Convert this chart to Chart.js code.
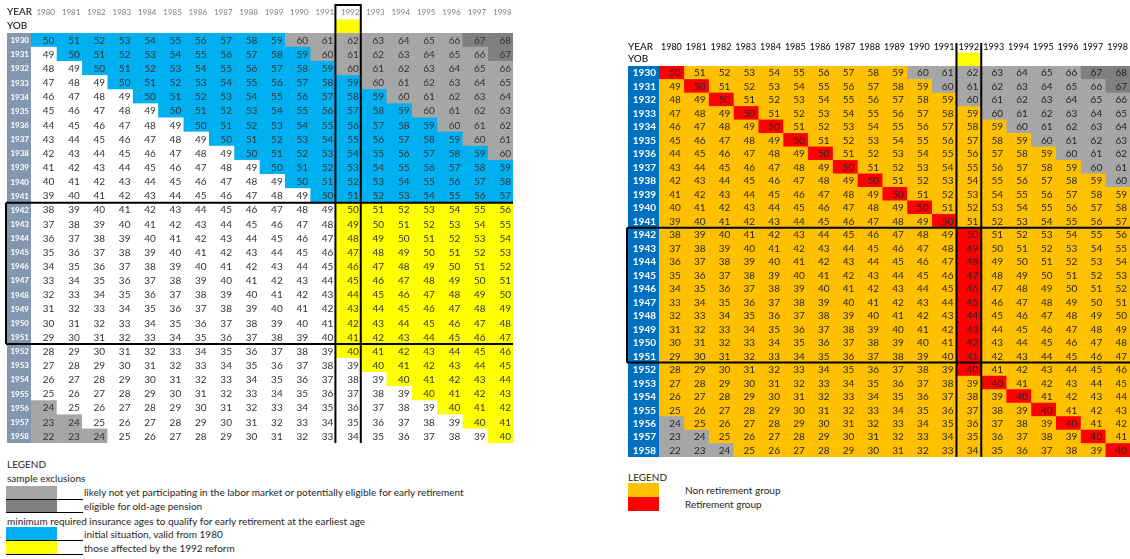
<!DOCTYPE html>
<html lang="en">
  <head>
    <meta charset="UTF-8" />
    <title>Early retirement ages by year of birth</title>
    <style>
      body { margin: 0; background: #fff; font-family: Lato, "Open Sans", sans-serif; color: #262626; }
      #page { position: relative; width: 1130px; height: 559px; overflow: hidden; }
      .box { position: absolute; }
      .txt { position: absolute; font-size: 10px; line-height: 14px; white-space: nowrap; }
      .sw { position: absolute; }
      .ul { position: absolute; height: 1px; background: #000; }
    </style>
  </head>
  <body>
    <div id="page">
      <div class="box" style="left:0;top:0;width:515px;height:450px"><canvas id="left"></canvas></div>
      <div class="box" style="left:620px;top:30px;width:510px;height:430px"><canvas id="right"></canvas></div>

      <div class="txt" style="left:7px;top:457px">LEGEND</div>
      <div class="txt" style="left:7px;top:471px">sample exclusions</div>
      <div class="sw" style="left:6px;top:486px;width:51px;height:13px;background:#a6a6a6"></div>
      <div class="ul" style="left:6px;top:499px;width:77px"></div>
      <div class="txt" style="left:84px;top:485px">likely not yet participating in the labor market or potentially eligible for early retirement</div>
      <div class="sw" style="left:6px;top:500px;width:51px;height:12px;background:#808080"></div>
      <div class="ul" style="left:6px;top:512px;width:77px"></div>
      <div class="txt" style="left:84px;top:499px">eligible for old-age pension</div>
      <div class="txt" style="left:7px;top:514px">minimum required insurance ages to qualify for early retirement at the earliest age</div>
      <div class="sw" style="left:6px;top:527px;width:51px;height:13px;background:#00b0f0"></div>
      <div class="ul" style="left:6px;top:540px;width:77px"></div>
      <div class="txt" style="left:84px;top:527px">initial situation, valid from 1980</div>
      <div class="sw" style="left:6px;top:541px;width:51px;height:13px;background:#ffff00"></div>
      <div class="ul" style="left:6px;top:554px;width:77px"></div>
      <div class="txt" style="left:84px;top:541px">those affected by the 1992 reform</div>

      <div class="txt" style="left:628px;top:470px">LEGEND</div>
      <div class="sw" style="left:628px;top:483px;width:31px;height:14px;background:#ffc000"></div>
      <div class="sw" style="left:628px;top:497px;width:31px;height:14px;background:#ff0000"></div>
      <div class="txt" style="left:685px;top:483px">Non retirement group</div>
      <div class="txt" style="left:685px;top:497px">Retirement group</div>
    </div>

    <script src="https://cdn.jsdelivr.net/npm/chart.js@4.4.1/dist/chart.umd.min.js"></script>
    <script>
      const years = ["1980", "1981", "1982", "1983", "1984", "1985", "1986", "1987", "1988", "1989",
        "1990", "1991", "1992", "1993", "1994", "1995", "1996", "1997", "1998"];
      const yob = ["1930", "1931", "1932", "1933", "1934", "1935", "1936", "1937", "1938", "1939",
        "1940", "1941", "1942", "1943", "1944", "1945", "1946", "1947", "1948", "1949",
        "1950", "1951", "1952", "1953", "1954", "1955", "1956", "1957", "1958"];

      // age shown in each cell (rows = year of birth, columns = year)
      const ages = [
        [50, 51, 52, 53, 54, 55, 56, 57, 58, 59, 60, 61, 62, 63, 64, 65, 66, 67, 68],
        [49, 50, 51, 52, 53, 54, 55, 56, 57, 58, 59, 60, 61, 62, 63, 64, 65, 66, 67],
        [48, 49, 50, 51, 52, 53, 54, 55, 56, 57, 58, 59, 60, 61, 62, 63, 64, 65, 66],
        [47, 48, 49, 50, 51, 52, 53, 54, 55, 56, 57, 58, 59, 60, 61, 62, 63, 64, 65],
        [46, 47, 48, 49, 50, 51, 52, 53, 54, 55, 56, 57, 58, 59, 60, 61, 62, 63, 64],
        [45, 46, 47, 48, 49, 50, 51, 52, 53, 54, 55, 56, 57, 58, 59, 60, 61, 62, 63],
        [44, 45, 46, 47, 48, 49, 50, 51, 52, 53, 54, 55, 56, 57, 58, 59, 60, 61, 62],
        [43, 44, 45, 46, 47, 48, 49, 50, 51, 52, 53, 54, 55, 56, 57, 58, 59, 60, 61],
        [42, 43, 44, 45, 46, 47, 48, 49, 50, 51, 52, 53, 54, 55, 56, 57, 58, 59, 60],
        [41, 42, 43, 44, 45, 46, 47, 48, 49, 50, 51, 52, 53, 54, 55, 56, 57, 58, 59],
        [40, 41, 42, 43, 44, 45, 46, 47, 48, 49, 50, 51, 52, 53, 54, 55, 56, 57, 58],
        [39, 40, 41, 42, 43, 44, 45, 46, 47, 48, 49, 50, 51, 52, 53, 54, 55, 56, 57],
        [38, 39, 40, 41, 42, 43, 44, 45, 46, 47, 48, 49, 50, 51, 52, 53, 54, 55, 56],
        [37, 38, 39, 40, 41, 42, 43, 44, 45, 46, 47, 48, 49, 50, 51, 52, 53, 54, 55],
        [36, 37, 38, 39, 40, 41, 42, 43, 44, 45, 46, 47, 48, 49, 50, 51, 52, 53, 54],
        [35, 36, 37, 38, 39, 40, 41, 42, 43, 44, 45, 46, 47, 48, 49, 50, 51, 52, 53],
        [34, 35, 36, 37, 38, 39, 40, 41, 42, 43, 44, 45, 46, 47, 48, 49, 50, 51, 52],
        [33, 34, 35, 36, 37, 38, 39, 40, 41, 42, 43, 44, 45, 46, 47, 48, 49, 50, 51],
        [32, 33, 34, 35, 36, 37, 38, 39, 40, 41, 42, 43, 44, 45, 46, 47, 48, 49, 50],
        [31, 32, 33, 34, 35, 36, 37, 38, 39, 40, 41, 42, 43, 44, 45, 46, 47, 48, 49],
        [30, 31, 32, 33, 34, 35, 36, 37, 38, 39, 40, 41, 42, 43, 44, 45, 46, 47, 48],
        [29, 30, 31, 32, 33, 34, 35, 36, 37, 38, 39, 40, 41, 42, 43, 44, 45, 46, 47],
        [28, 29, 30, 31, 32, 33, 34, 35, 36, 37, 38, 39, 40, 41, 42, 43, 44, 45, 46],
        [27, 28, 29, 30, 31, 32, 33, 34, 35, 36, 37, 38, 39, 40, 41, 42, 43, 44, 45],
        [26, 27, 28, 29, 30, 31, 32, 33, 34, 35, 36, 37, 38, 39, 40, 41, 42, 43, 44],
        [25, 26, 27, 28, 29, 30, 31, 32, 33, 34, 35, 36, 37, 38, 39, 40, 41, 42, 43],
        [24, 25, 26, 27, 28, 29, 30, 31, 32, 33, 34, 35, 36, 37, 38, 39, 40, 41, 42],
        [23, 24, 25, 26, 27, 28, 29, 30, 31, 32, 33, 34, 35, 36, 37, 38, 39, 40, 41],
        [22, 23, 24, 25, 26, 27, 28, 29, 30, 31, 32, 33, 34, 35, 36, 37, 38, 39, 40],
      ];

      // cell groups, run-length per row: W none, B 1980 rule, Y 1992 reform, G excluded, D old-age pension
      const leftGroups = [
        "B10 G7 D2", "W1 B10 G7 D1", "W2 B10 G7", "W3 B10 G6", "W4 B10 G5", "W5 B10 G4",
        "W6 B10 G3", "W7 B10 G2", "W8 B10 G1", "W9 B10", "W10 B9", "W11 B8",
        "W12 Y7", "W12 Y7", "W12 Y7", "W12 Y7", "W12 Y7", "W12 Y7", "W12 Y7", "W12 Y7",
        "W12 Y7", "W12 Y7", "W12 Y7", "W13 Y6", "W14 Y5", "W15 Y4",
        "G1 W15 Y3", "G2 W15 Y2", "G3 W15 Y1",
      ];
      // O non retirement, R retirement, G excluded, D old-age pension
      const rightGroups = [
        "R1 O9 G7 D2", "O1 R1 O9 G7 D1", "O2 R1 O9 G7", "O3 R1 O9 G6", "O4 R1 O9 G5",
        "O5 R1 O9 G4", "O6 R1 O9 G3", "O7 R1 O9 G2", "O8 R1 O9 G1", "O9 R1 O9",
        "O10 R1 O8", "O11 R1 O7",
        "O12 R1 O6", "O12 R1 O6", "O12 R1 O6", "O12 R1 O6", "O12 R1 O6", "O12 R1 O6",
        "O12 R1 O6", "O12 R1 O6", "O12 R1 O6", "O12 R1 O6", "O12 R1 O6",
        "O13 R1 O5", "O14 R1 O4", "O15 R1 O3",
        "G1 O15 R1 O2", "G2 O15 R1 O1", "G3 O15 R1",
      ];
      const reformYear = "1992";
      const boxRows = ["1942", "1951"];

      const palette = {
        W: "#ffffff", B: "#00b0f0", Y: "#ffff00", G: "#a6a6a6", D: "#808080",
        O: "#ffc000", R: "#ff0000",
      };

      const expand = (s) =>
        s.split(" ").flatMap((run) => Array(parseInt(run.slice(1))).fill(run[0]));

      function tablePlugin(cfg) {
        return {
          id: "tableText",
          afterDatasetsDraw(chart) {
            const { ctx, chartArea: a, scales } = chart;
            const x = scales.x, y = scales.y;
            const rowH = (a.bottom - a.top) / yob.length;
            const colX = (c) => x.getPixelForValue(c);
            const left = a.left - cfg.yobWidth;
            ctx.save();
            ctx.textBaseline = "middle";

            // year-of-birth column
            ctx.fillStyle = cfg.yobFill;
            ctx.fillRect(left, a.top, cfg.yobWidth, a.bottom - a.top);
            ctx.font = cfg.yobFont;
            ctx.fillStyle = "#ffffff";
            ctx.textAlign = "right";
            yob.forEach((label, r) => {
              ctx.fillText(label, a.left - cfg.yobPad, y.getPixelForValue(r) + 0.5);
            });

            // header
            ctx.font = "10px Lato";
            ctx.fillStyle = "#000";
            ctx.textAlign = "left";
            ctx.fillText("YEAR", left, a.top - cfg.yearRow);
            ctx.fillText("YOB", left, a.top - 7);
            ctx.font = cfg.yearFont;
            ctx.fillStyle = cfg.yearColor;
            ctx.textAlign = "center";
            years.forEach((label, c) => {
              ctx.fillText(label, (colX(c) + colX(c + 1)) / 2 + cfg.yearShift, a.top - cfg.yearRow);
            });
            const rc = years.indexOf(reformYear);
            ctx.fillStyle = "#ffff00";
            ctx.fillRect(colX(rc), a.top - 13.5, colX(rc + 1) - colX(rc), 13.5);

            // cell values
            ctx.font = "10px Lato";
            ctx.fillStyle = cfg.valueColor;
            ctx.textAlign = "right";
            ages.forEach((row, r) => {
              const yc = y.getPixelForValue(r) + 0.5;
              row.forEach((v, c) => ctx.fillText(String(v), colX(c + 1) - cfg.valuePad, yc));
            });

            // reform column and cohort box
            ctx.strokeStyle = "#000";
            ctx.lineWidth = 2;
            ctx.beginPath();
            const top = a.top - cfg.boxTop;
            [rc, rc + 1].forEach((c) => {
              ctx.moveTo(colX(c), top);
              ctx.lineTo(colX(c), a.bottom);
            });
            if (cfg.boxCap) {
              ctx.moveTo(colX(rc) - 1, top);
              ctx.lineTo(colX(rc + 1) + 1, top);
            }
            const r0 = yob.indexOf(boxRows[0]), r1 = yob.indexOf(boxRows[1]) + 1;
            [r0, r1].forEach((r) => {
              const yy = a.top + r * rowH;
              ctx.moveTo(left - 1, yy);
              ctx.lineTo(a.right, yy);
            });
            ctx.moveTo(left - 1, a.top + r0 * rowH);
            ctx.lineTo(left - 1, a.top + r1 * rowH);
            ctx.stroke();
            ctx.restore();
          },
        };
      }

      function makeTable(id, groups, padding, cfg) {
        const cells = groups.map(expand);
        return new Chart(document.getElementById(id), {
          type: "bar",
          data: {
            labels: yob,
            datasets: years.map((yr, c) => ({
              label: yr,
              data: yob.map(() => 1),
              backgroundColor: cells.map((row) => palette[row[c]]),
              borderWidth: 0,
              barPercentage: 1,
              categoryPercentage: 1,
            })),
          },
          options: {
            indexAxis: "y",
            responsive: true,
            maintainAspectRatio: false,
            animation: false,
            layout: { padding },
            scales: {
              x: { stacked: true, min: 0, max: years.length, display: false },
              y: { stacked: true, display: false },
            },
            plugins: { legend: { display: false }, tooltip: { enabled: false } },
          },
          plugins: [tablePlugin(cfg)],
        });
      }

      makeTable("left", leftGroups, { left: 31, right: 2, top: 33, bottom: 7 }, {
        yobWidth: 24, yobFill: "#8497b0", yobFont: "bold 8px Lato", yobPad: 2,
        yearFont: "8px Lato", yearColor: "#808080", yearShift: 2, yearRow: 21,
        valueColor: "#333333", valuePad: 2, boxTop: 28, boxCap: true,
      });
      makeTable("right", rightGroups, { left: 39, right: 0, top: 36, bottom: 3 }, {
        yobWidth: 31, yobFill: "#0070c0", yobFont: "bold 10px Lato", yobPad: 3,
        yearFont: "9px Lato", yearColor: "#000000", yearShift: 0, yearRow: 19,
        valueColor: "#262626", valuePad: 3, boxTop: 23, boxCap: false,
      });
    </script>
  </body>
</html>
